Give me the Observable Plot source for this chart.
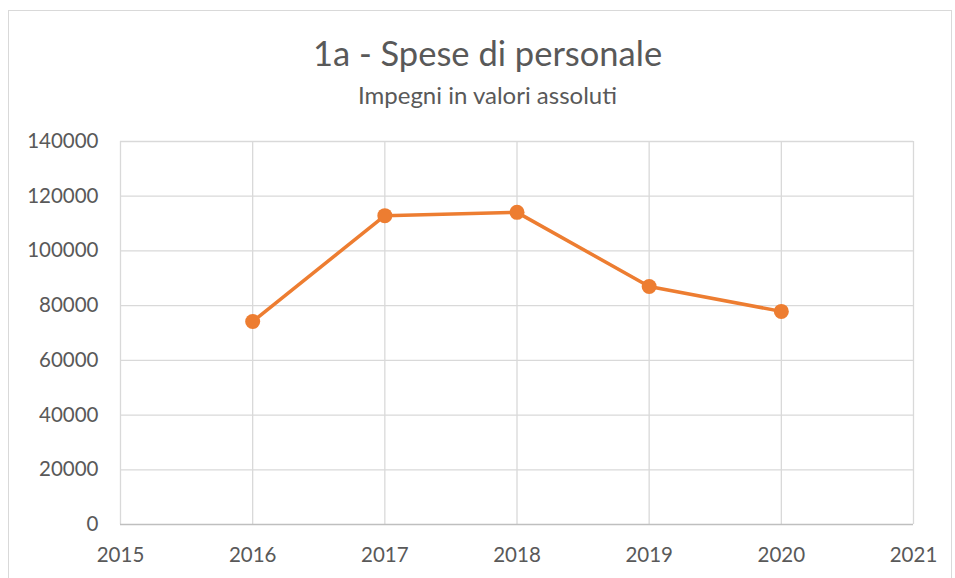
<!DOCTYPE html>
<html>
<head>
<meta charset="utf-8">
<script src="https://cdn.jsdelivr.net/npm/d3@7"></script>
<script src="https://cdn.jsdelivr.net/npm/@observablehq/plot@0.6"></script>
<style>
  html, body { margin: 0; padding: 0; background: #fff; }
  #wrap { position: relative; width: 955px; height: 578px; overflow: hidden; font-family: Lato, "Open Sans", sans-serif; }
  #frame { position: absolute; left: 8px; top: 10px; width: 944px; height: 600px; border: 1px solid #d9d9d9; box-sizing: border-box; }
  #header { position: absolute; left: 10px; top: 0; width: 955px; height: 110px; text-align: center; color: #595959; }
  #title { position: absolute; left: 0; width: 100%; top: 31px; font-size: 34.5px; font-weight: 400; line-height: 44px; }
  #subtitle { position: absolute; left: 0; width: 100%; top: 80px; font-size: 24px; font-weight: 400; line-height: 30px; }
  #chart { position: absolute; left: 0; top: 110px; }
</style>
</head>
<body>
<div id="wrap">
  <div id="frame"></div>
  <div id="header">
    <div id="title">1a - Spese di personale</div>
    <div id="subtitle">Impegni in valori assoluti</div>
  </div>
  <div id="chart"></div>
</div>
<script>
const years = [2016, 2017, 2018, 2019, 2020];
const values = [74200, 112900, 114100, 87000, 77900];
const xTicks = [2015, 2016, 2017, 2018, 2019, 2020, 2021];
const yTicks = [0, 20000, 40000, 60000, 80000, 100000, 120000, 140000];

const data = years.map((y, i) => ({year: y, value: values[i]}));

const plot = Plot.plot({
  width: 955,
  height: 468,
  marginTop: 31,
  marginBottom: 54,
  marginLeft: 120,
  marginRight: 42,
  style: {fontFamily: "Lato, 'Open Sans', sans-serif", fontSize: "20.5px", color: "#595959", background: "transparent"},
  x: {domain: [2015, 2021], ticks: xTicks, tickFormat: "d", tickSize: 0, tickPadding: 23, label: null},
  y: {domain: [0, 140000], ticks: yTicks, tickFormat: d => String(d), tickSize: 0, tickPadding: 22, label: null},
  marks: [
    Plot.gridX(xTicks, {stroke: "#d9d9d9", strokeOpacity: 1, strokeWidth: 1.3}),
    Plot.gridY(yTicks.filter(d => d > 0), {stroke: "#d9d9d9", strokeOpacity: 1, strokeWidth: 1.3}),
    Plot.ruleY([0], {stroke: "#bfbfbf", strokeWidth: 1.3}),
    Plot.line(data, {x: "year", y: "value", stroke: "#ED7D31", strokeWidth: 3.5}),
    Plot.dot(data, {x: "year", y: "value", fill: "#ED7D31", r: 7.5, stroke: "none"})
  ]
});
document.getElementById("chart").appendChild(plot);
</script>
</body>
</html>
